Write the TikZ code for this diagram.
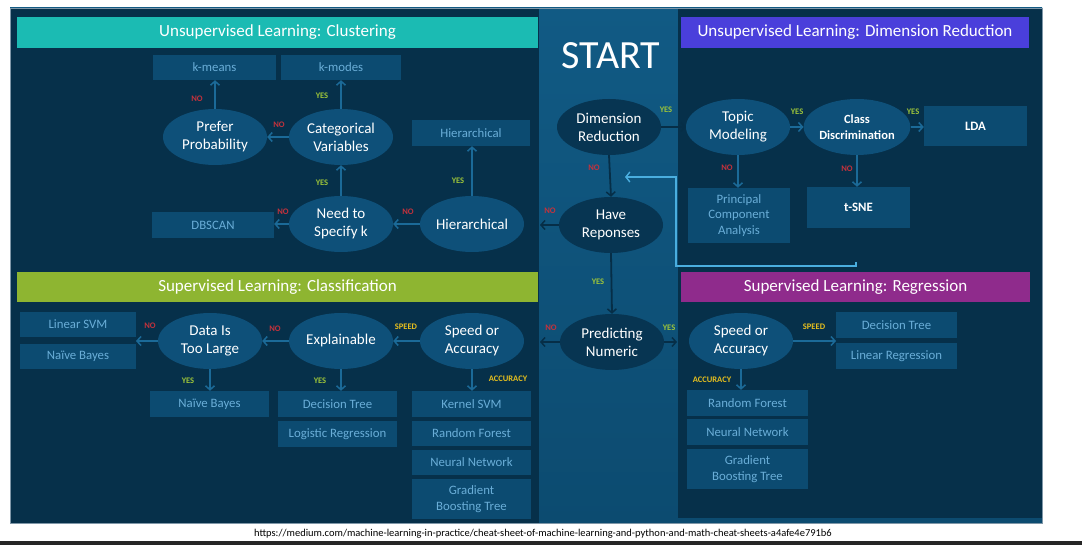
\documentclass[tikz,border=0pt]{standalone}
\usepackage{fontspec}
\setmainfont{Carlito}
\usetikzlibrary{arrows.meta,shapes.geometric}
\definecolor{bgdark}{HTML}{06304A}
\definecolor{coltop}{HTML}{115A84}
\definecolor{colbot}{HTML}{0C4B70}
\definecolor{boxfill}{HTML}{0C4B71}
\definecolor{boxtext}{HTML}{6AAED8}
\definecolor{ellfill}{HTML}{0E5079}
\definecolor{ellcol}{HTML}{073552}
\definecolor{arr}{HTML}{1B6A98}
\definecolor{arrdark}{HTML}{062E47}
\definecolor{tealbar}{HTML}{1BBBB3}
\definecolor{violetbar}{HTML}{4A3FDB}
\definecolor{purplebar}{HTML}{8F2B8C}
\definecolor{limebar}{HTML}{8EB531}
\definecolor{nored}{HTML}{C3323C}
\definecolor{yesgreen}{HTML}{9DC43A}
\definecolor{spdyellow}{HTML}{E6BF1E}
\definecolor{fbblue}{HTML}{4AAEDF}
\definecolor{frame}{HTML}{7F97A8}
\begin{document}
\begin{tikzpicture}[x=1pt,y=-1pt,
  ell/.style={ellipse, fill=ellfill, text=white, minimum width=104pt, minimum height=56pt, inner sep=0pt, align=center, font=\fontsize{15}{18}\selectfont},
  ellc/.style={ell, fill=ellcol},
  box/.style={rectangle, fill=boxfill, text=boxtext, inner sep=0pt, align=center, font=\fontsize{12.8}{15.5}\selectfont},
  boldbox/.style={box, text=white, font=\fontsize{12.8}{15.5}\selectfont\bfseries},
  hdr/.style={rectangle, inner sep=0pt, text=white, font=\fontsize{17}{20}\selectfont},
  lab/.style={font=\fontsize{8.5}{9}\selectfont\bfseries, inner sep=0pt},
  nolab/.style={lab, text=nored},
  yeslab/.style={lab, text=yesgreen},
  spdlab/.style={lab, text=spdyellow},
  conn/.style={draw=arr, line width=1.8pt, -{Straight Barb[length=4pt,width=9pt,line width=1.5pt]}},
  connd/.style={conn, draw=arrdark},
  fbconn/.style={draw=fbblue, line width=1.5pt, -{Straight Barb[length=4pt,width=10pt,line width=1.4pt]}}
]
\useasboundingbox (0,0) rectangle (1082,545);
\fill[white] (0,0) rectangle (1082,545);
% panels
\shade[top color=coltop, bottom color=colbot] (10,8) rectangle (1042,523);
\fill[bgdark] (10,8) rectangle (539,523);
\fill[bgdark] (678,8) rectangle (1042,518);
\draw[frame, line width=0.8pt] (10,8) rectangle (1042,523);
% header bars
\node[hdr, fill=tealbar, minimum width=521pt, minimum height=31pt] (h1) at (277.5,32.5) {Unsupervised Learning: Clustering};
\node[hdr, fill=violetbar, minimum width=348pt, minimum height=31pt] (h2) at (855,32.5) {Unsupervised Learning: Dimension Reduction};
\node[hdr, fill=limebar, minimum width=521pt, minimum height=30pt] (h3) at (277.5,287.5) {Supervised Learning: Classification};
\node[hdr, fill=purplebar, minimum width=349pt, minimum height=30pt] (h4) at (855.5,287.5) {Supervised Learning: Regression};
% START column
\node[text=white, font=\fontsize{40}{44}\selectfont, inner sep=0pt] (start) at (611,56) {START};
\node[ellc] (dimred) at (609,127) {Dimension\\Reduction};
\node[ellc] (haverep) at (611,225) {Have\\Reponses};
\node[ellc] (prednum) at (612,342) {Predicting\\Numeric};
\coordinate (hrend) at (540,225);
\coordinate (pnleft) at (540,342);
\coordinate (pnright) at (677,342);
% clustering
\node[box, minimum width=123pt, minimum height=25pt] (kmeans) at (214.5,67.5) {k-means};
\node[box, minimum width=120pt, minimum height=25pt] (kmodes) at (341,67.5) {k-modes};
\node[ell] (prefer) at (215,137) {Prefer\\Probability};
\node[ell] (catvar) at (341,137) {Categorical\\Variables};
\node[box, minimum width=118pt, minimum height=26pt] (hierbox) at (471,133) {Hierarchical};
\node[box, minimum width=122pt, minimum height=26pt] (dbscan) at (213,225) {DBSCAN};
\node[ell] (needk) at (341,224) {Need to\\Specify k};
\node[ell] (hier) at (472,224) {Hierarchical};
% dimension reduction
\node[ell] (topic) at (738,127) {Topic\\Modeling};
\node[ell, font=\fontsize{12.5}{16}\selectfont\bfseries] (classd) at (857,127) {Class\\Discrimination};
\node[boldbox, minimum width=103pt, minimum height=40pt] (lda) at (975.5,126) {LDA};
\node[box, minimum width=102pt, minimum height=55pt] (pca) at (739,215.5) {Principal\\Component\\Analysis};
\node[boldbox, minimum width=103pt, minimum height=41pt] (tsne) at (858.5,207.5) {t-SNE};
\coordinate (fbstart) at (856,262);
\coordinate (fbend) at (625,177);
% regression
\node[ell] (rspeed) at (741,341) {Speed or\\Accuracy};
\node[box, minimum width=121pt, minimum height=26pt] (rdt) at (896.5,325) {Decision Tree};
\node[box, minimum width=121pt, minimum height=26pt] (rlr) at (896.5,356) {Linear Regression};
\node[box, minimum width=121pt, minimum height=26pt] (rrf) at (747.5,403) {Random Forest};
\node[box, minimum width=121pt, minimum height=26pt] (rnn) at (747.5,432) {Neural Network};
\node[box, minimum width=121pt, minimum height=40pt] (rgb) at (747.5,469) {Gradient\\Boosting Tree};
\coordinate (rsend) at (836,341);
% classification
\node[box, minimum width=116pt, minimum height=25pt] (lsvm) at (78,324.5) {Linear SVM};
\node[box, minimum width=116pt, minimum height=25pt] (nb1) at (78,356.5) {Naïve Bayes};
\node[ell] (datal) at (210,341) {Data Is\\Too Large};
\node[ell] (explain) at (341,341) {Explainable};
\node[ell] (cspeed) at (472,341) {Speed or\\Accuracy};
\node[box, minimum width=119pt, minimum height=26pt] (nb2) at (209.5,404) {Naïve Bayes};
\node[box, minimum width=119pt, minimum height=26pt] (cdt) at (337.5,404) {Decision Tree};
\node[box, minimum width=119pt, minimum height=26pt] (clr) at (337.5,434) {Logistic Regression};
\node[box, minimum width=119pt, minimum height=26pt] (ksvm) at (471.5,404) {Kernel SVM};
\node[box, minimum width=119pt, minimum height=25pt] (crf) at (471.5,433.5) {Random Forest};
\node[box, minimum width=119pt, minimum height=25pt] (cnn) at (471.5,462.5) {Neural Network};
\node[box, minimum width=119pt, minimum height=40pt] (cgb) at (471.5,499) {Gradient\\Boosting Tree};
\coordinate (dlend) at (136,341);
% connectors clustering
\draw[conn] (prefer.north) -- (prefer.north |- kmeans.south);
\draw[conn] (catvar.north) -- (catvar.north |- kmodes.south);
\draw[conn] (catvar.west) -- (prefer.east);
\draw[conn] (needk.north) -- (catvar.south);
\draw[conn] (needk.west) -- (needk.west -| dbscan.east);
\draw[conn] (hier.west) -- (needk.east);
\draw[conn] (hier.north) -- (hier.north |- hierbox.south);
% connectors center
\draw[connd] (haverep.west) -- (hrend);
\draw[connd] (dimred.east) -- (topic.west);
\draw[connd] (dimred.south) -- (haverep.north);
\draw[connd] (haverep.south) -- (prednum.north);
\draw[connd] (prednum.west) -- (pnleft);
\draw[connd] (prednum.east) -- (pnright);
% connectors dimension reduction
\draw[conn] (topic.east) -- (classd.west);
\draw[conn] (classd.east) -- (classd.east -| lda.west);
\draw[conn] (topic.south) -- (topic.south |- pca.north);
\draw[conn] (classd.south) -- (classd.south |- tsne.north);
\draw[fbconn] (fbstart) -- (856,266) -- (676,266) -- (676,177) -- (fbend);
% connectors regression
\draw[conn] (rspeed.east) -- (rsend);
\draw[conn] (rspeed.south) -- (rspeed.south |- rrf.north);
% connectors classification
\draw[conn] (cspeed.west) -- (explain.east);
\draw[conn] (explain.west) -- (datal.east);
\draw[conn] (datal.west) -- (dlend);
\draw[conn] (datal.south) -- (datal.south |- nb2.north);
\draw[conn] (explain.south) -- (explain.south |- cdt.north);
\draw[conn] (cspeed.south) -- (cspeed.south |- ksvm.north);
% labels
\node[nolab] (l1) at (197,99) {NO};
\node[yeslab] (l2) at (322,96) {YES};
\node[nolab] (l3) at (279,125) {NO};
\node[yeslab] (l4) at (322,183) {YES};
\node[nolab] (l5) at (283,212) {NO};
\node[nolab] (l6) at (408,212) {NO};
\node[yeslab] (l7) at (458,181) {YES};
\node[yeslab] (l8) at (666,110) {YES};
\node[nolab] (l9) at (594,168) {NO};
\node[nolab] (l10) at (550,211) {NO};
\node[yeslab] (l11) at (598,282) {YES};
\node[nolab] (l12) at (551,328) {NO};
\node[yeslab] (l13) at (669,328) {YES};
\node[yeslab] (l14) at (797,112) {YES};
\node[yeslab] (l15) at (913,112) {YES};
\node[nolab] (l16) at (727,168) {NO};
\node[nolab] (l17) at (847,169) {NO};
\node[spdlab] (l18) at (814,327) {SPEED};
\node[spdlab] (l19) at (712,380) {ACCURACY};
\node[nolab] (l20) at (150,326) {NO};
\node[nolab] (l21) at (275,329) {NO};
\node[spdlab] (l22) at (406,327) {SPEED};
\node[yeslab] (l23) at (188,381) {YES};
\node[yeslab] (l24) at (320,381) {YES};
\node[spdlab] (l25) at (508,379) {ACCURACY};
% caption and bottom bar
\node[text=black, font=\fontsize{10.5}{12}\selectfont, inner sep=0pt] (cap) at (543,534) {https://medium.com/machine-learning-in-practice/cheat-sheet-of-machine-learning-and-python-and-math-cheat-sheets-a4afe4e791b6};
\fill[black!85] (0,541) rectangle (1082,545);
\end{tikzpicture}
\end{document}
